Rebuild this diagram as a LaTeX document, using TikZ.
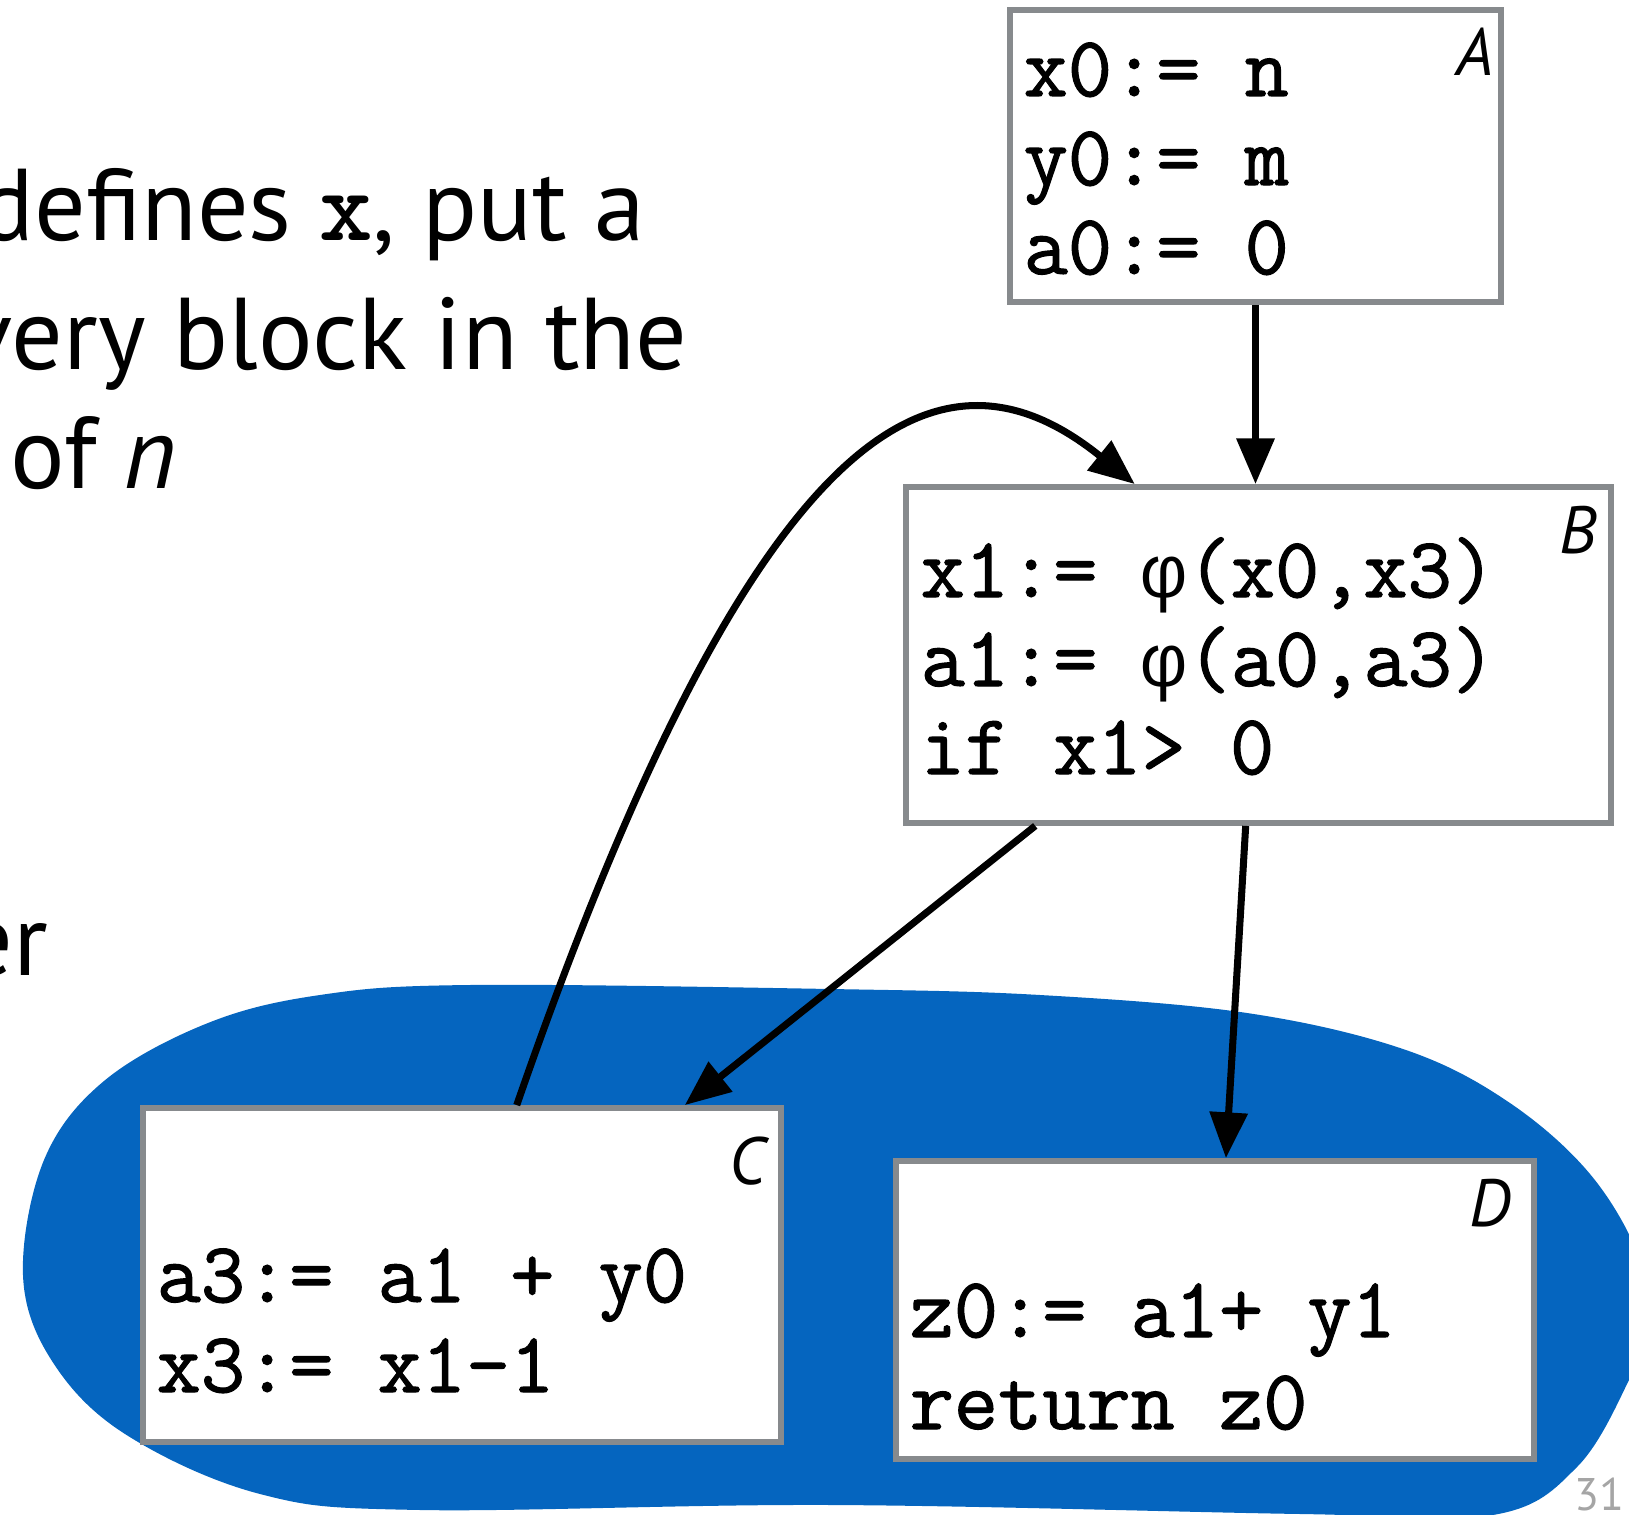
\documentclass[tikz,border=0pt]{standalone}
\usepackage{fontspec}
\setmainfont{PT Sans}
\newfontfamily\codefont[FakeBold=1.3]{Latin Modern Mono}
\newfontfamily\greekmono[Scale=0.875]{Liberation Mono}
\usetikzlibrary{arrows.meta,calc}
\definecolor{blobblue}{RGB}{5,101,191}
\definecolor{boxgray}{RGB}{135,138,141}
\definecolor{pagegray}{RGB}{165,165,165}
\newcommand{\phisym}{{\greekmono φ}}

\begin{document}
\begin{tikzpicture}[x=0.01cm,y=0.01cm]
\tikzstyle{every node}+=[inner sep=0pt]
\tikzstyle{block}=[draw=boxgray, line width=1.6pt, fill=white, rectangle]
\tikzstyle{code}=[anchor=base west, font=\fontsize{24.4}{28}\selectfont\codefont]
\tikzstyle{lbl}=[anchor=base east, font=\fontsize{19}{19}\selectfont\itshape]
\tikzstyle{slide}=[font=\fontsize{29}{37}\selectfont]
\tikzstyle{flow}=[black, line width=2pt, -{Triangle[length=13pt,width=10.5pt]}]
\useasboundingbox (0,0) rectangle (1629,-1515);
\fill [blobblue] plot [smooth cycle, tension=0.6] coordinates {
  (23,-1275) (44,-1160) (104,-1081) (208,-1023) (320,-995) (470,-985)
  (830,-989) (1040,-995) (1247,-1013) (1403,-1049) (1507,-1101)
  (1590,-1174) (1640,-1260) (1645,-1330) (1629,-1380) (1577,-1467)
  (1493,-1515) (1300,-1514) (830,-1505) (420,-1510) (260,-1494)
  (125,-1434) (52,-1361)};
\node [slide, anchor=base east] (l1) at (646,-240) {defines {\ttfamily\bfseries x}, put a};
\node [slide, anchor=base east] (l2) at (688,-369) {very block in the};
\node [slide, anchor=base west] (l3) at (10,-488) {of \textit{n}};
\node [slide, anchor=base east] (l4) at (49,-975) {er};
\node [block, minimum width=4.91cm, minimum height=2.92cm] (A) at (1255.5,-156) {};
\node [block, minimum width=7.05cm, minimum height=3.36cm] (B) at (1258.5,-655) {};
\node [block, minimum width=6.38cm, minimum height=3.34cm] (C) at (462,-1275) {};
\node [block, minimum width=6.38cm, minimum height=2.98cm] (D) at (1215,-1310) {};
\node [lbl] (Alab) at (1494,-75) {A};
\node [code] (A1) at (1023,-96) {x0:= n};
\node [code] (A2) at (1023,-185) {y0:= m};
\node [code] (A3) at (1023,-274) {a0:= 0};
\node [lbl] (Blab) at (1597,-553) {B};
\node [code] (B1) at (920,-597) {x1:= \phisym(x0,x3)};
\node [code] (B2) at (920,-686) {a1:= \phisym(a0,a3)};
\node [code] (B3) at (920,-774) {if x1> 0};
\node [lbl] (Clab) at (767,-1184) {C};
\node [code] (C1) at (156,-1302) {a3:= a1 + y0};
\node [code] (C2) at (156,-1392) {x3:= x1-1};
\node [lbl] (Dlab) at (1512,-1226) {D};
\node [code] (D1) at (909,-1337) {z0:= a1+ y1};
\node [code] (D2) at (909,-1429) {return z0};
\node [anchor=base east, text=pagegray, font=\fontsize{13}{13}\selectfont] (page) at (1625,-1510) {31};
\draw [flow] (A.south) -- (A.south |- B.north);
\draw [flow] ($(B.south west)!0.186!(B.south east)$) -- ($(C.north west)!0.846!(C.north east)$);
\draw [flow] ($(B.south west)!0.482!(B.south east)$) -- ($(D.north west)!0.517!(D.north east)$);
\draw [flow] ($(C.north west)!0.585!(C.north east)$) .. controls +(244,704) and +(-191,154) .. ($(B.north west)!0.326!(B.north east)$);
\end{tikzpicture}
\end{document}
